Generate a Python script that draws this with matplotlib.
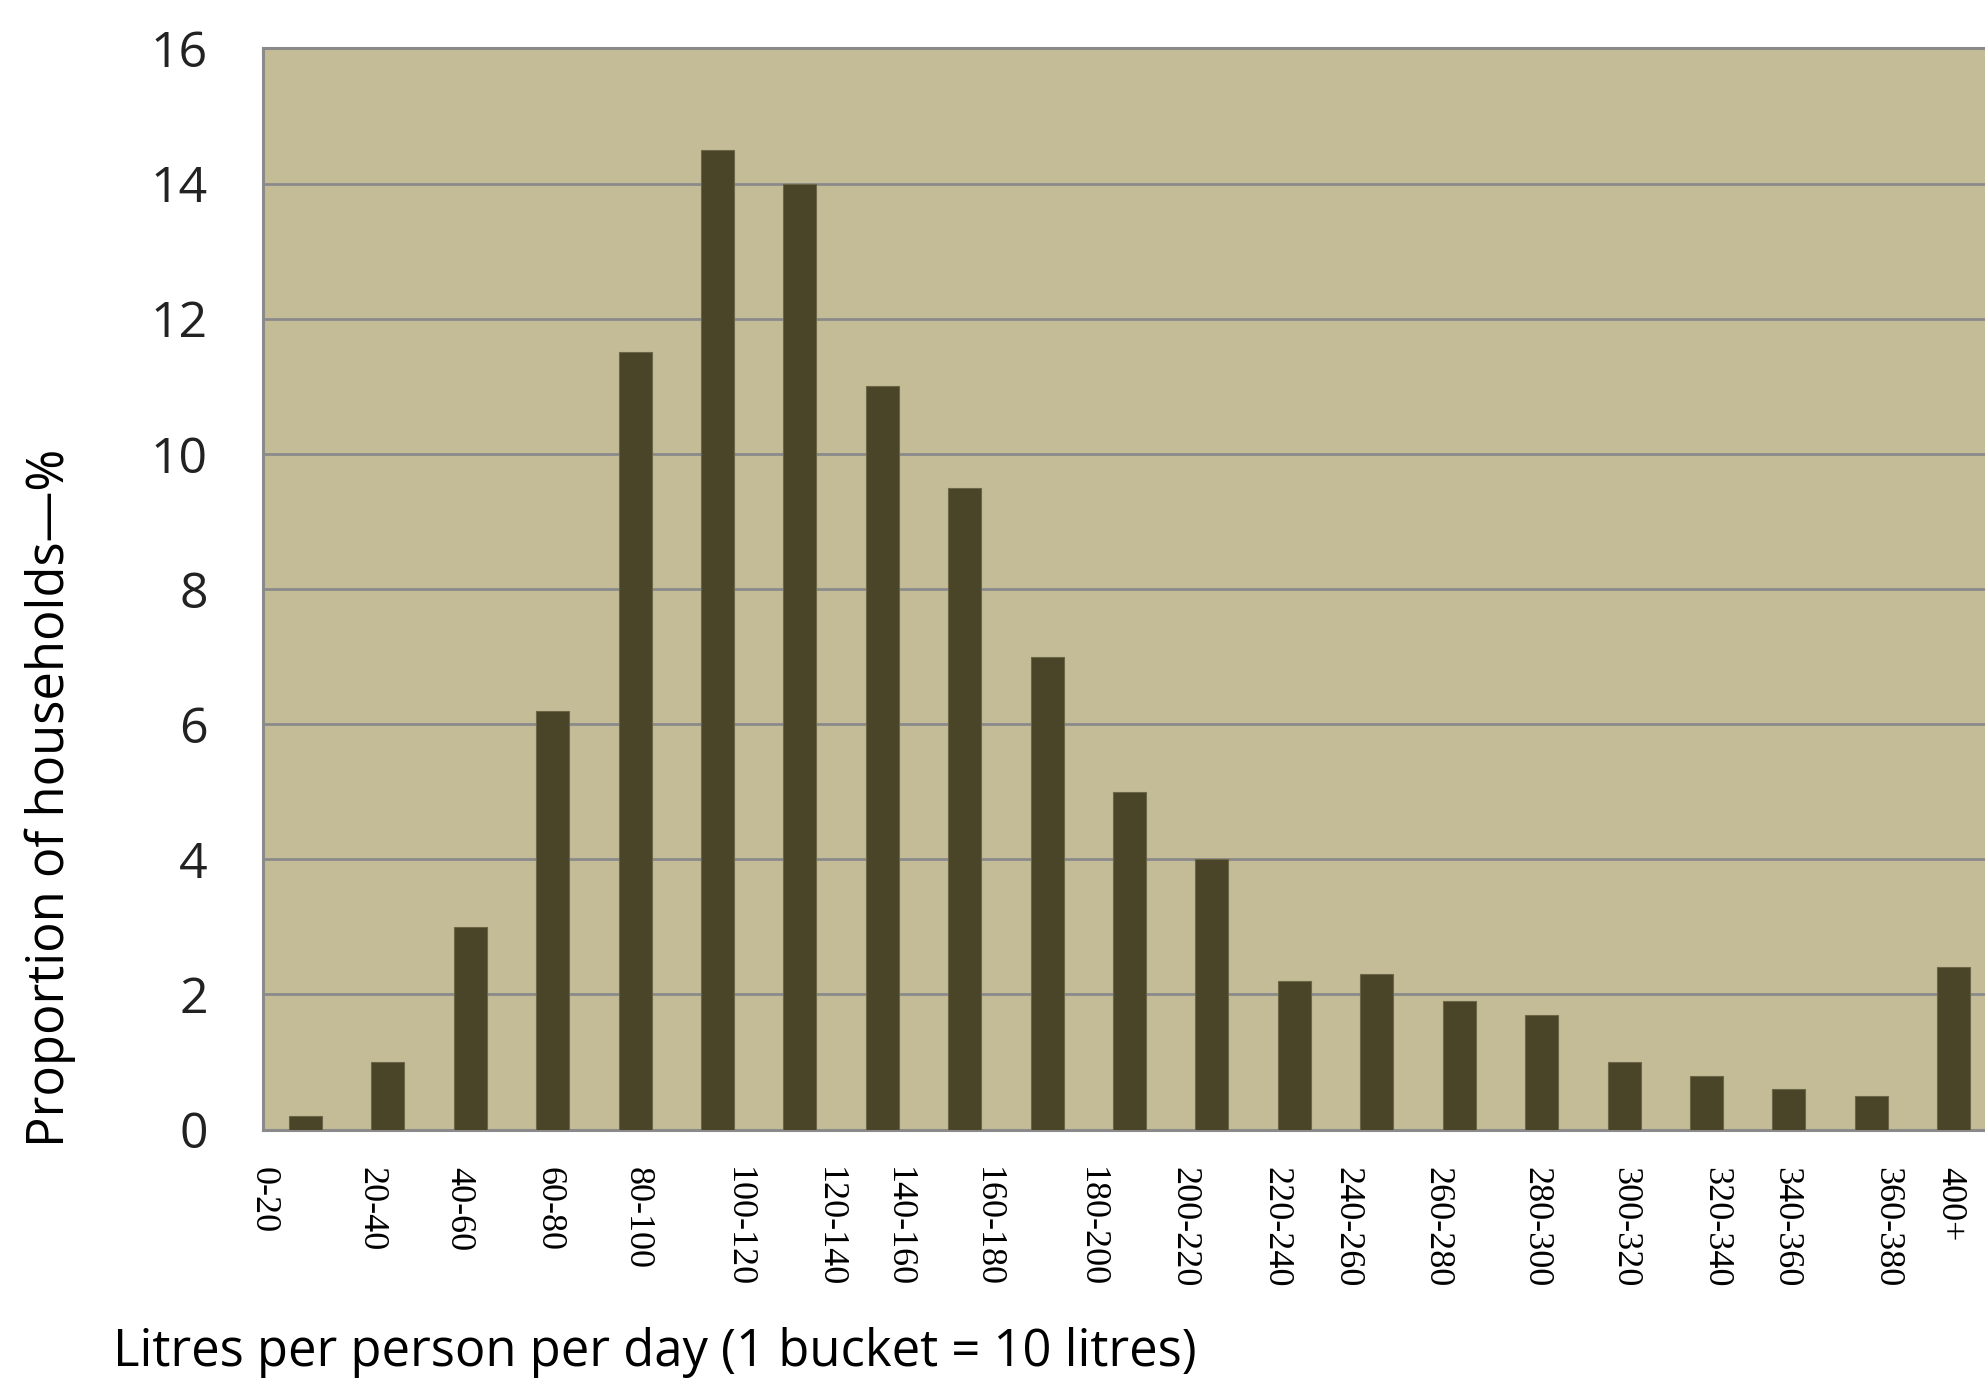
import matplotlib
matplotlib.use("Agg")
import matplotlib.pyplot as plt

# bar heights (% of households), one per bucket in the picture
values = [0.2, 1.0, 3.0, 6.2, 11.5, 14.5, 14.0, 11.0, 9.5, 7.0, 5.0,
          4.0, 2.2, 2.3, 1.9, 1.7, 1.0, 0.8, 0.6, 0.5, 2.4]

# the category labels sit a bit off the bars in the original
tick_labels = ['0-20', '20-40', '40-60', '60-80', '80-100', '100-120',
               '120-140', '140-160', '160-180', '180-200', '200-220',
               '220-240', '240-260', '260-280', '280-300', '300-320',
               '320-340', '340-360', '360-380', '400+']
tick_pos = [-0.51, 0.80, 1.86, 2.95, 4.02, 5.25, 6.36, 7.20, 8.28, 9.54,
            10.66, 11.77, 12.64, 13.73, 14.93, 16.01, 17.11, 17.96,
            19.19, 19.95]

y_ticks = [0, 2, 4, 6, 8, 10, 12, 14, 16]

bg = '#c4bc96'
bar_col = '#4a4429'
grid_col = '#8a8a8a'

fig = plt.figure(figsize=(19.85, 13.81), dpi=100)
ax = fig.add_axes([0.1327, 0.182, 0.8673, 0.783])
ax.set_facecolor(bg)

ax.bar(range(len(values)), values, width=0.4, color=bar_col,
       edgecolor='#6b6645', linewidth=0.8, zorder=3)

ax.set_xlim(-0.51, 20.38)
ax.set_ylim(0, 16)
ax.set_yticks(y_ticks)
ax.set_yticklabels([str(t) for t in y_ticks], fontsize=36, family='Open Sans')
ax.yaxis.grid(True, color=grid_col, linewidth=2, zorder=1)
ax.tick_params(axis='y', length=0, pad=40, colors='#222222')

ax.set_xticks(tick_pos)
ax.set_xticklabels(tick_labels, rotation=-90, fontsize=26,
                   family='Liberation Serif', va='top', ha='center')
ax.tick_params(axis='x', length=0, pad=27)

for side in ['left', 'top', 'bottom']:
    ax.spines[side].set_color(grid_col)
    ax.spines[side].set_linewidth(2.2)
ax.spines['right'].set_visible(False)

fig.text(0.0255, 0.4225, 'Proportion of households\u2014%', rotation=90,
         ha='center', va='center', fontsize=36.5, family='Open Sans')
fig.text(0.057, 0.002, 'Litres per person per day (1 bucket = 10 litres)',
         ha='left', va='bottom', fontsize=36.5, family='Open Sans')

fig.savefig('out.png', dpi=100, facecolor='white')
